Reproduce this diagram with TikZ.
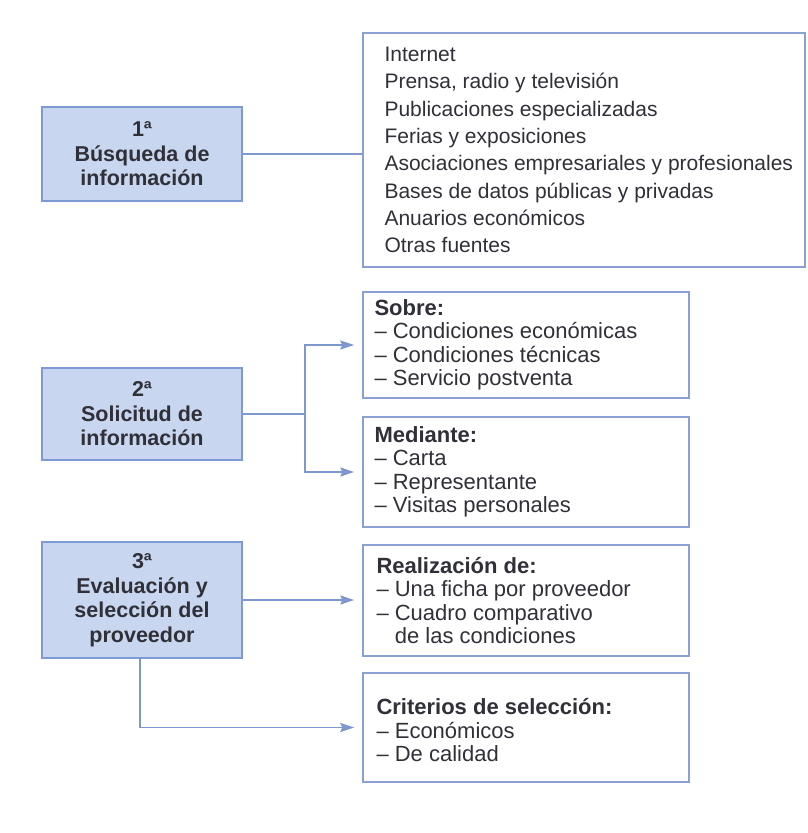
\documentclass[tikz,border=0pt]{standalone}
\usepackage{fontspec}
\setmainfont{Liberation Sans}
\usetikzlibrary{arrows.meta}
\definecolor{bfill}{HTML}{C8D6F0}
\definecolor{bdraw}{HTML}{7E9AD6}
\definecolor{rdraw}{HTML}{8AA0D4}
\definecolor{lcol}{HTML}{7F97CF}
\definecolor{tcol}{HTML}{303038}
\begin{document}
\begin{tikzpicture}[x=1pt,y=-1pt,
  stepbox/.style={draw=bdraw, line width=1.8pt, fill=bfill, minimum width=200pt,
    align=center, font=\bfseries\fontsize{21.5}{24.5}\selectfont, text=tcol, inner sep=0pt},
  infobox/.style={draw=rdraw, line width=1.4pt, fill=white, inner sep=0pt},
  infotxt/.style={anchor=west, align=left, inner sep=0pt, text=tcol,
    font=\fontsize{22}{23.5}\selectfont},
  listtxt/.style={anchor=west, align=left, inner sep=0pt, text=tcol,
    font=\fontsize{21}{27.3}\selectfont},
  conn/.style={draw=lcol, line width=1.8pt},
  arr/.style={conn, -{Stealth[length=14pt, width=9pt, inset=2pt]}, shorten >=8pt}
]
\useasboundingbox (0,0) rectangle (807,833);
\fill[white] (0,0) rectangle (807,833);

% left step boxes
\node[stepbox, minimum height=94pt] (B1) at (142,154) {1ª\\Búsqueda de\\información};
\node[stepbox, minimum height=92pt] (B2) at (142,414) {2ª\\Solicitud de\\información};
\node[stepbox, minimum height=116pt] (B3) at (142,600) {3ª\\Evaluación y\\selección del\\proveedor};

% right boxes
\node[infobox, minimum width=442pt, minimum height=234pt] (SA) at (584,150) {};
\node[listtxt] (SAt) at ([xshift=22pt]SA.west) {Internet\\Prensa, radio y televisión\\Publicaciones especializadas\\Ferias y exposiciones\\Asociaciones empresariales y profesionales\\Bases de datos públicas y privadas\\Anuarios económicos\\Otras fuentes};

\node[infobox, minimum width=326pt, minimum height=106pt] (SB) at (526,345) {};
\node[infotxt] (SBt) at ([xshift=12pt]SB.west) {\textbf{Sobre:}\\– Condiciones económicas\\– Condiciones técnicas\\– Servicio postventa};

\node[infobox, minimum width=326pt, minimum height=110pt] (SC) at (526,472) {};
\node[infotxt] (SCt) at ([xshift=12pt]SC.west) {\textbf{Mediante:}\\– Carta\\– Representante\\– Visitas personales};

\node[infobox, minimum width=326pt, minimum height=111pt] (SD) at (526,600.5) {};
\node[infotxt] (SDt) at ([xshift=14pt]SD.west) {\textbf{Realización de:}\\– Una ficha por proveedor\\– Cuadro comparativo\\\phantom{– }de las condiciones};

\node[infobox, minimum width=326pt, minimum height=109pt] (SE) at (526,727.5) {};
\node[infotxt] (SEt) at ([xshift=14pt,yshift=-3pt]SE.west) {\textbf{Criterios de selección:}\\– Económicos\\– De calidad};

% connectors
\draw[conn] (B1.east) -- (B1.east -| SA.west);

\coordinate (j2) at (305,414);
\draw[conn] (B2.east) -- (j2);
\draw[arr] (j2) |- (SB.west);
\draw[arr] (j2) |- (SC.west);

\draw[arr] (B3.east) -- (B3.east -| SD.west);
\coordinate (j3) at (140,658);
\draw[arr] (j3) |- (SE.west);
\end{tikzpicture}
\end{document}
